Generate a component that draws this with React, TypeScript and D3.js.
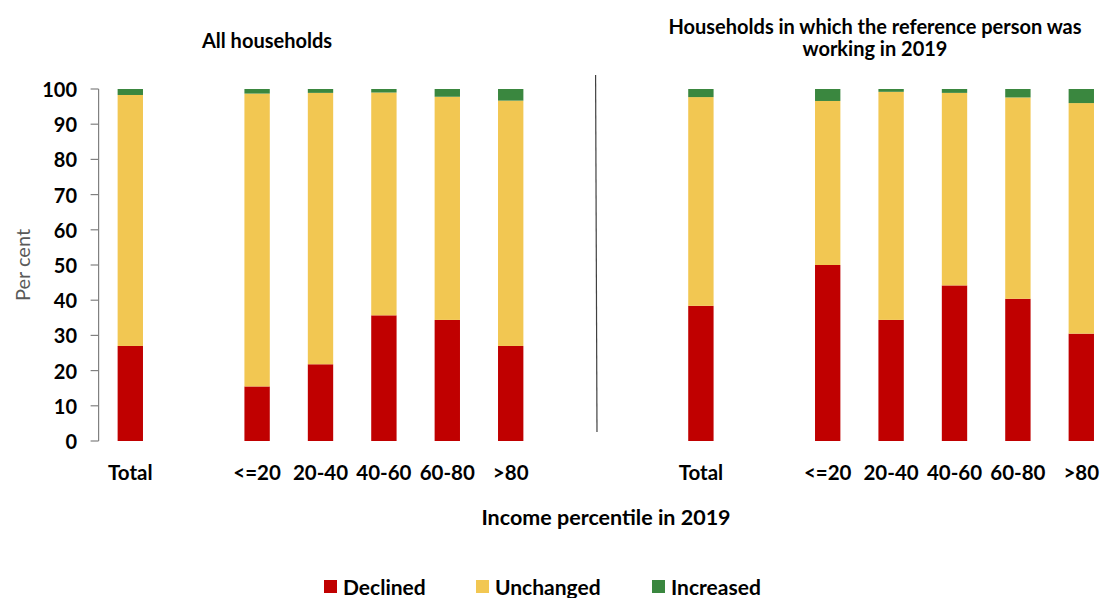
import React from "react";
import * as d3 from "d3";

const categories = ["Total", "<=20", "20-40", "40-60", "60-80", ">80"];
const panelTitles = [["All households"], ["Households in which the reference person was", "working in 2019"]];
const seriesNames = ["Declined", "Unchanged", "Increased"];
const seriesColors = ["#C00000", "#F2C752", "#3A873F"];

// All households
const allDeclined = [27.0, 15.5, 21.8, 35.7, 34.4, 27.0];
const allUnchanged = [71.3, 83.2, 77.1, 63.3, 63.4, 69.7];
const allIncreased = [1.7, 1.3, 1.1, 1.0, 2.2, 3.3];
// Reference person working in 2019
const workDeclined = [38.4, 50.0, 34.4, 44.2, 40.4, 30.5];
const workUnchanged = [59.3, 46.6, 64.8, 54.7, 57.2, 65.5];
const workIncreased = [2.3, 3.4, 0.8, 1.1, 2.4, 4.0];

const yTicks = [0, 10, 20, 30, 40, 50, 60, 70, 80, 90, 100];
const xTitle = "Income percentile in 2019";
const yTitle = "Per cent";

const FONT = "Lato, 'Open Sans', sans-serif";

export default function App() {
  const W = 1102, H = 598;
  const panels = [
    { key: "A", d: allDeclined, u: allUnchanged, i: allIncreased },
    { key: "B", d: workDeclined, u: workUnchanged, i: workIncreased },
  ];
  const slotKey = (p: string, c: string) => `${p}|${c}`;
  const domain: string[] = [];
  panels.forEach((p, pi) => {
    domain.push(slotKey(p.key, categories[0]));
    domain.push(slotKey(p.key, "gap"));
    categories.slice(1).forEach((c) => domain.push(slotKey(p.key, c)));
    if (pi === 0) {
      domain.push("gap1");
      domain.push("gap2");
    }
  });
  const x = d3.scaleBand<string>().domain(domain).range([98.6, 1113]).paddingInner(0.6).paddingOuter(0.3);
  const y = d3.scaleLinear().domain([0, 100]).range([441, 89]);
  const step = x.step();
  const bw = x.bandwidth();

  const bars: JSX.Element[] = [];
  const labels: JSX.Element[] = [];
  panels.forEach((p) => {
    categories.forEach((c, ci) => {
      const vals = [p.d[ci], p.u[ci], p.i[ci]];
      const stack = d3.cumsum(vals);
      const bx = x(slotKey(p.key, c))!;
      vals.forEach((v, si) => {
        const y0 = si === 0 ? 0 : stack[si - 1];
        const y1 = si === vals.length - 1 ? 100 : stack[si];
        bars.push(
          <rect key={`${p.key}-${c}-${si}`} x={bx} width={bw} y={y(y1)} height={y(y0) - y(y1)} fill={seriesColors[si]} />
        );
      });
      labels.push(
        <text key={`l-${p.key}-${c}`} x={bx + bw / 2} y={472} textAnchor="middle" dominantBaseline="central"
          fontFamily={FONT} fontWeight={700} fontSize={20.5} fill="#000">{c}</text>
      );
    });
  });

  const divX = x("gap1")! - step * 0.3 + step * 0.85;

  const legendItems = [
    { x: 324, name: seriesNames[0], color: seriesColors[0] },
    { x: 476, name: seriesNames[1], color: seriesColors[1] },
    { x: 652, name: seriesNames[2], color: seriesColors[2] },
  ];

  return (
    <svg width={W} height={H} style={{ position: "absolute", left: 0, top: 0, display: "block", background: "#fff" }}>
      {/* panel titles */}
      <text x={267} y={40} textAnchor="middle" dominantBaseline="central" fontFamily={FONT} fontWeight={700} fontSize={20}>{panelTitles[0][0]}</text>
      {panelTitles[1].map((t, k) => (
        <text key={k} x={875} y={26 + k * 22} textAnchor="middle" dominantBaseline="central" fontFamily={FONT} fontWeight={700} fontSize={20}>{t}</text>
      ))}
      {/* y axis */}
      <line x1={98.6} x2={98.6} y1={y(100)} y2={y(0)} stroke="#808080" strokeWidth={1.2} />
      {yTicks.map((t) => (
        <g key={t}>
          <line x1={90.6} x2={98.6} y1={y(t)} y2={y(t)} stroke="#808080" strokeWidth={1.2} />
          <text x={77} y={y(t)} textAnchor="end" dominantBaseline="central" fontFamily={FONT} fontWeight={700} fontSize={20}>{t}</text>
        </g>
      ))}
      <text transform={`translate(22,${(y(0) + y(100)) / 2}) rotate(-90)`} textAnchor="middle" dominantBaseline="central"
        fontFamily={FONT} fontSize={20} fill="#595959">{yTitle}</text>
      {bars}
      {labels}
      {/* divider */}
      <line x1={divX - 0.7} y1={75} x2={divX + 0.7} y2={432} stroke="#404040" strokeWidth={1.2} />
      <text x={606} y={517} textAnchor="middle" dominantBaseline="central" fontFamily={FONT} fontWeight={700} fontSize={21.5}>{xTitle}</text>
      {/* legend */}
      {legendItems.map((it) => (
        <g key={it.name}>
          <rect x={it.x} y={580} width={13} height={13} fill={it.color} />
          <text x={it.x + 19} y={586.5} dominantBaseline="central" fontFamily={FONT} fontWeight={700} fontSize={21}>{it.name}</text>
        </g>
      ))}
    </svg>
  );
}
